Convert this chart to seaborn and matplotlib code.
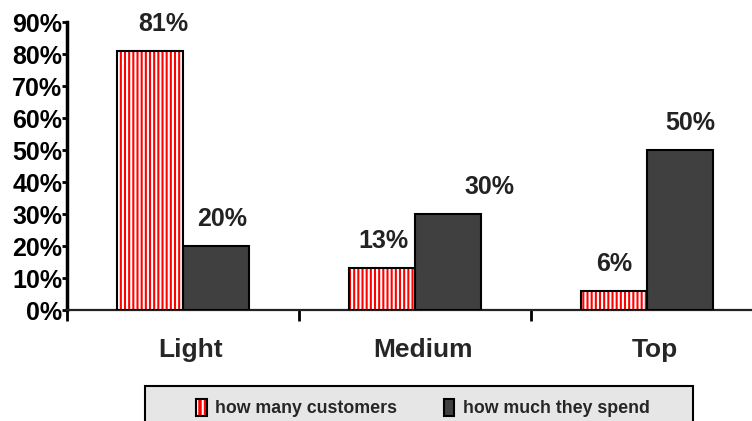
import matplotlib
matplotlib.use("Agg")
import matplotlib.pyplot as plt
from matplotlib.patches import Patch, Rectangle
from matplotlib.legend_handler import HandlerTuple
from matplotlib.ticker import FixedLocator, PercentFormatter
from matplotlib.transforms import ScaledTranslation
import pandas as pd
import seaborn as sns

# Customer segments and their shares
segments = ["Light", "Medium", "Top"]
series_names = ["how many customers", "how much they spend"]
customers_pct = [81, 13, 6]
spend_pct = [20, 30, 50]
y_ticks = [0, 10, 20, 30, 40, 50, 60, 70, 80, 90]

# horizontal nudges (pixels) for the value labels
label_nudge_customers = [13, 1, 0]
label_nudge_spend = [6, 42, 11]

df = pd.DataFrame({
    "segment": segments * 2,
    "series": [series_names[0]] * 3 + [series_names[1]] * 3,
    "pct": customers_pct + spend_pct,
})

sns.set_style("white")
plt.rcParams["font.family"] = ["Liberation Sans", "DejaVu Sans"]
plt.rcParams["font.weight"] = "bold"
plt.rcParams["hatch.linewidth"] = 1.5

RED = "#ff0000"
DARK = "#404040"

fig = plt.figure(figsize=(7.52, 4.21), dpi=100)
ax = fig.add_axes([67 / 752, (421 - 310) / 421, 1 - 67 / 752, (310 - 22) / 421])

sns.barplot(data=df, x="segment", y="pct", hue="series", order=segments,
            hue_order=series_names, palette=[RED, DARK], width=0.565, gap=0,
            edgecolor="black", linewidth=1.5, legend=False, ax=ax, zorder=3)

# red bars: white vertical stripes with a black outline on top
for p in ax.containers[0]:
    p.set_facecolor(RED)
    p.set_edgecolor("white")
    p.set_hatch("||||")
    p.set_linewidth(0)
    ax.add_patch(Rectangle(p.get_xy(), p.get_width(), p.get_height(),
                           fill=False, edgecolor="black", linewidth=1.5, zorder=4))
for p in ax.containers[1]:
    p.set_facecolor(DARK)
    p.set_edgecolor("black")

# value labels above the bars
for container, vals, nudges in ((ax.containers[0], customers_pct, label_nudge_customers),
                                (ax.containers[1], spend_pct, label_nudge_spend)):
    for p, v, dx in zip(container, vals, nudges):
        ax.annotate(f"{v}%", (p.get_x() + p.get_width() / 2, v),
                    xytext=(dx * 0.72, 19.5), textcoords="offset points",
                    ha="center", va="center", fontsize=18, fontweight="bold",
                    color="#222222", annotation_clip=False)

ax.set_xlim(-0.5, 2.4526)
ax.set_ylim(0, 90)
ax.set_yticks(y_ticks)
ax.yaxis.set_major_formatter(PercentFormatter(decimals=0))
ax.set_xlabel("")
ax.set_ylabel("")

for side in ("top", "right"):
    ax.spines[side].set_visible(False)
ax.spines["left"].set_linewidth(2.5)
ax.spines["left"].set_color("black")
ax.spines["bottom"].set_linewidth(1.6)
ax.spines["bottom"].set_color("#222222")

ax.tick_params(axis="y", direction="out", length=3.5, width=2, pad=0,
               labelsize=18, colors="black", left=True)
ax.tick_params(axis="x", which="major", length=0, pad=20, labelsize=19)
ax.xaxis.set_minor_locator(FixedLocator([-0.5, 0.5, 1.5]))
ax.tick_params(axis="x", which="minor", direction="out", length=8, width=2,
               color="black", bottom=True)

# category labels sit slightly right of the group centres
shift = ScaledTranslation(8 / 100, 0, fig.dpi_scale_trans)
for lbl in ax.get_xticklabels():
    lbl.set_fontweight("bold")
    lbl.set_transform(lbl.get_transform() + shift)
for lbl in ax.get_yticklabels():
    lbl.set_fontweight("bold")

# legend panel
fig.patches.append(Rectangle((145 / 752, -0.02), 548 / 752, 0.02 + (421 - 386) / 421,
                             transform=fig.transFigure, facecolor="#e6e6e6",
                             edgecolor="black", linewidth=1.5, zorder=1))
h_red = (Patch(facecolor=RED, edgecolor="white", hatch="|||", linewidth=0),
         Patch(fill=False, edgecolor="black", linewidth=1.5))
h_dark = Patch(facecolor=DARK, edgecolor="black", linewidth=1.5)
fig.legend([h_red, h_dark], series_names, handler_map={tuple: HandlerTuple(ndivide=1)},
           loc="center", bbox_to_anchor=(423 / 752, (421 - 408) / 421), ncol=2,
           frameon=False, prop={"size": 12.8, "weight": "bold"},
           handlelength=0.6, handleheight=1.15, handletextpad=0.5,
           columnspacing=2.6, borderpad=0)

fig.savefig("out.png", dpi=100)
